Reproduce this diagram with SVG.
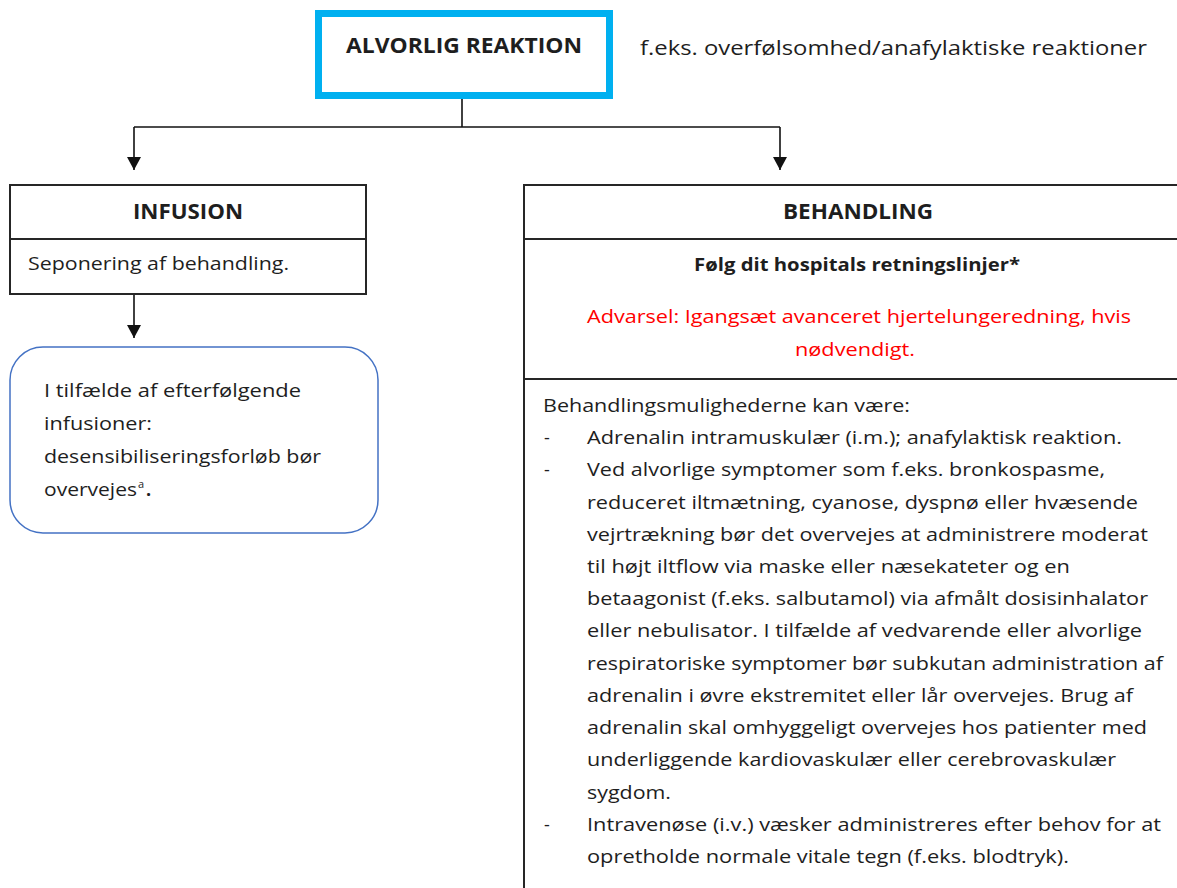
<svg xmlns="http://www.w3.org/2000/svg" width="1177" height="888" viewBox="0 0 1177 888">
<defs>
<style>
.t{font-family:"Open Sans","Liberation Sans",sans-serif;font-size:18px;fill:#1e1e1e}
.b{font-weight:bold}
.h{font-size:21px}
.red{fill:#FF0000}
.box{fill:#ffffff;stroke:#262626;stroke-width:2}
.div{stroke:#262626;stroke-width:2;fill:none}
.conn{stroke:#111111;stroke-width:1.6;fill:none}
</style>
<marker id="arr" markerUnits="userSpaceOnUse" markerWidth="14" markerHeight="15" refX="13" refY="7" orient="auto" viewBox="0 0 14 15">
<path d="M0,0 L13,7 L0,14 z" fill="#111111"/>
</marker>
</defs>
<rect width="1177" height="888" fill="#ffffff"/>

<g id="connectors">
<path class="conn" d="M462,99 V127"/>
<path class="conn" d="M134,127 H780"/>
<path class="conn" d="M134,127 V170" marker-end="url(#arr)"/>
<path class="conn" d="M780,127 V170" marker-end="url(#arr)"/>
<path class="conn" d="M134,294 V338" marker-end="url(#arr)"/>
</g>

<g id="node-alvorlig">
<rect x="318.5" y="13.5" width="291" height="82" fill="#ffffff" stroke="#00B0F0" stroke-width="7"/>
<text class="t b h" x="464" y="53" text-anchor="middle" font-size="22" textLength="236" lengthAdjust="spacingAndGlyphs">ALVORLIG REAKTION</text>
</g>

<g id="note-feks">
<text class="t" x="640" y="55" style="font-size:20px" textLength="507" lengthAdjust="spacingAndGlyphs">f.eks. overfølsomhed/anafylaktiske reaktioner</text>
</g>

<g id="node-infusion">
<rect class="box" x="10" y="185" width="356" height="109"/>
<line class="div" x1="10" y1="239" x2="366" y2="239"/>
<text class="t b h" x="188" y="219" text-anchor="middle" textLength="110" lengthAdjust="spacingAndGlyphs">INFUSION</text>
<text class="t" x="28" y="270" textLength="261" lengthAdjust="spacingAndGlyphs">Seponering af behandling.</text>
</g>

<g id="node-desens">
<rect x="10" y="347" width="368" height="186" rx="33" ry="33" fill="#ffffff" stroke="#4472C4" stroke-width="1.5"/>
<text class="t" x="44" y="397" textLength="257" lengthAdjust="spacingAndGlyphs">I tilfælde af efterfølgende</text>
<text class="t" x="44" y="430" textLength="108" lengthAdjust="spacingAndGlyphs">infusioner:</text>
<text class="t" x="44" y="463" textLength="277" lengthAdjust="spacingAndGlyphs">desensibiliseringsforløb bør</text>
<text class="t" x="44" y="496" textLength="93" lengthAdjust="spacingAndGlyphs">overvejes</text>
<text class="t" x="138" y="488" style="font-size:11px">a</text>
<text class="t b" x="146" y="496">.</text>
</g>

<g id="node-behandling">
<rect class="box" x="524" y="185" width="670" height="720"/>
<line class="div" x1="524" y1="239" x2="1177" y2="239"/>
<line class="div" x1="524" y1="379" x2="1177" y2="379"/>
<text class="t b h" x="858" y="219" text-anchor="middle" textLength="150" lengthAdjust="spacingAndGlyphs">BEHANDLING</text>
<text class="t b" x="857" y="271" text-anchor="middle" textLength="326" lengthAdjust="spacingAndGlyphs">Følg dit hospitals retningslinjer*</text>
<text class="t red" x="859" y="323" text-anchor="middle" textLength="544" lengthAdjust="spacingAndGlyphs">Advarsel: Igangsæt avanceret hjertelungeredning, hvis</text>
<text class="t red" x="855" y="356" text-anchor="middle" textLength="120" lengthAdjust="spacingAndGlyphs">nødvendigt.</text>

<text class="t" x="543" y="412" textLength="367" lengthAdjust="spacingAndGlyphs">Behandlingsmulighederne kan være:</text>
<text class="t" x="544" y="444">-</text>
<text class="t" x="587" y="444" textLength="535" lengthAdjust="spacingAndGlyphs">Adrenalin intramuskulær (i.m.); anafylaktisk reaktion.</text>
<text class="t" x="544" y="476">-</text>
<text class="t" x="587" y="476" textLength="518" lengthAdjust="spacingAndGlyphs">Ved alvorlige symptomer som f.eks. bronkospasme,</text>
<text class="t" x="587" y="509" textLength="551" lengthAdjust="spacingAndGlyphs">reduceret iltmætning, cyanose, dyspnø eller hvæsende</text>
<text class="t" x="587" y="541" textLength="561" lengthAdjust="spacingAndGlyphs">vejrtrækning bør det overvejes at administrere moderat</text>
<text class="t" x="587" y="573" textLength="483" lengthAdjust="spacingAndGlyphs">til højt iltflow via maske eller næsekateter og en</text>
<text class="t" x="587" y="605" textLength="561" lengthAdjust="spacingAndGlyphs">betaagonist (f.eks. salbutamol) via afmålt dosisinhalator</text>
<text class="t" x="587" y="637" textLength="555" lengthAdjust="spacingAndGlyphs">eller nebulisator. I tilfælde af vedvarende eller alvorlige</text>
<text class="t" x="587" y="670" textLength="576" lengthAdjust="spacingAndGlyphs">respiratoriske symptomer bør subkutan administration af</text>
<text class="t" x="587" y="702" textLength="546" lengthAdjust="spacingAndGlyphs">adrenalin i øvre ekstremitet eller lår overvejes. Brug af</text>
<text class="t" x="587" y="734" textLength="560" lengthAdjust="spacingAndGlyphs">adrenalin skal omhyggeligt overvejes hos patienter med</text>
<text class="t" x="587" y="766" textLength="529" lengthAdjust="spacingAndGlyphs">underliggende kardiovaskulær eller cerebrovaskulær</text>
<text class="t" x="587" y="799" textLength="84" lengthAdjust="spacingAndGlyphs">sygdom.</text>
<text class="t" x="544" y="831">-</text>
<text class="t" x="587" y="831" textLength="574" lengthAdjust="spacingAndGlyphs">Intravenøse (i.v.) væsker administreres efter behov for at</text>
<text class="t" x="587" y="863" textLength="482" lengthAdjust="spacingAndGlyphs">opretholde normale vitale tegn (f.eks. blodtryk).</text>
</g>
</svg>
